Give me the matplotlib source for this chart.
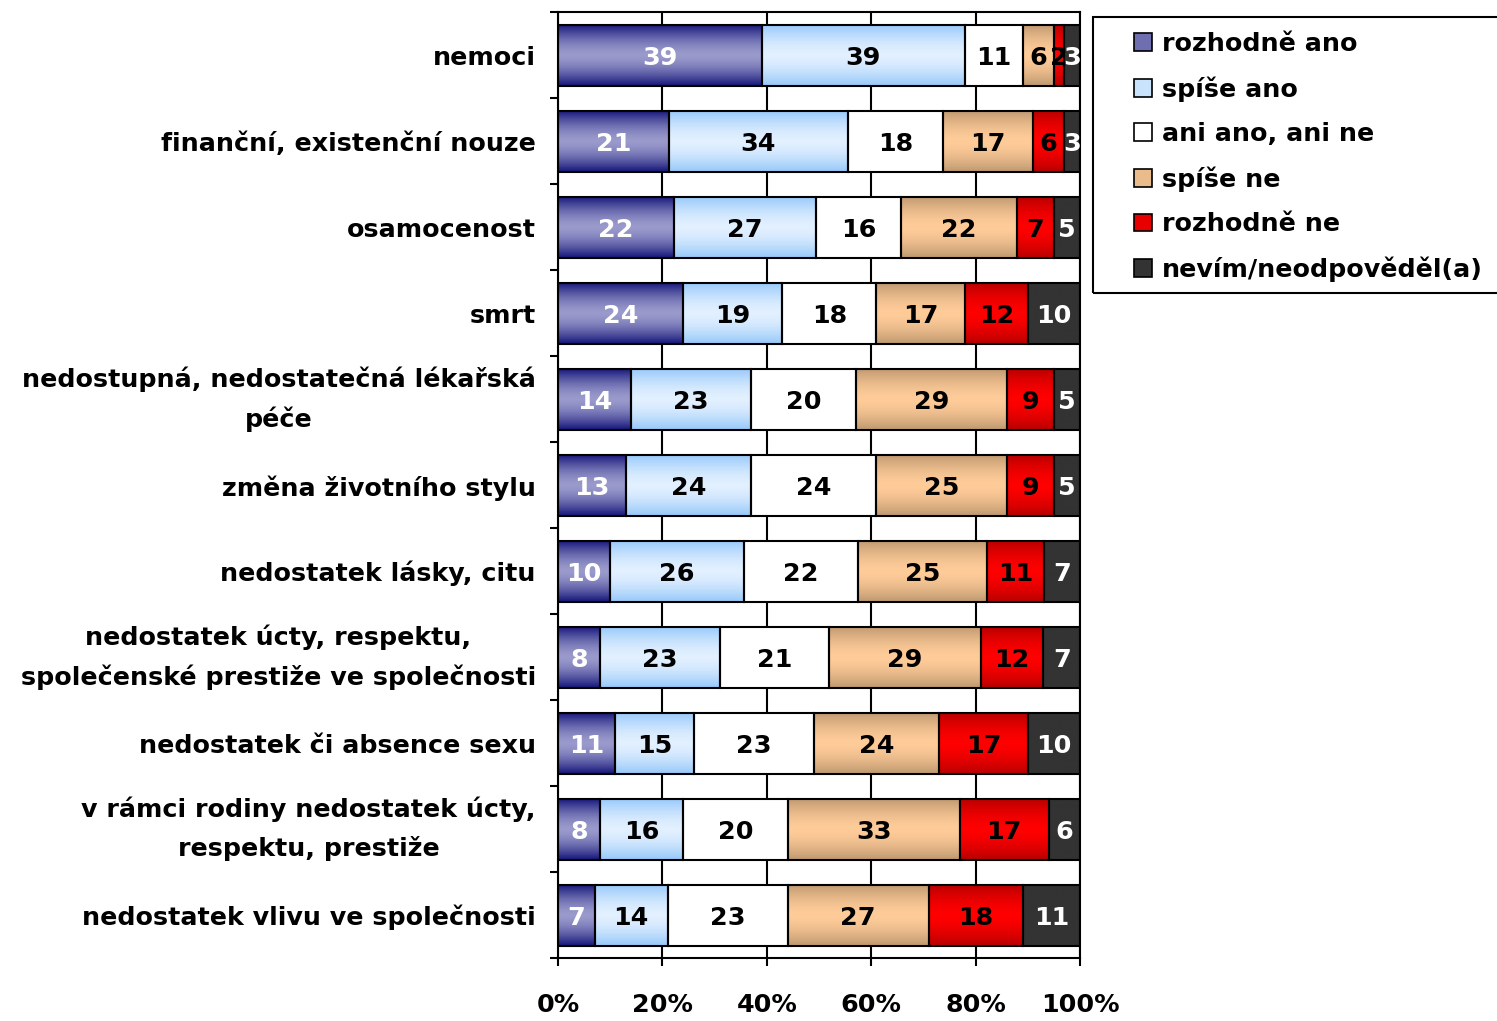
import numpy as np
import matplotlib.pyplot as plt
from matplotlib.colors import to_rgb
from matplotlib.patches import Patch, Rectangle

categories = [
    "nemoci",
    "finanční, existenční nouze",
    "osamocenost",
    "smrt",
    "nedostupná, nedostatečná lékařská\npéče",
    "změna životního stylu",
    "nedostatek lásky, citu",
    "nedostatek úcty, respektu,\nspolečenské prestiže ve společnosti",
    "nedostatek či absence sexu",
    "v rámci rodiny nedostatek úcty,\nrespektu, prestiže",
    "nedostatek vlivu ve společnosti",
]

rozhodne_ano = [39, 21, 22, 24, 14, 13, 10, 8, 11, 8, 7]
spise_ano = [39, 34, 27, 19, 23, 24, 26, 23, 15, 16, 14]
ani_ani = [11, 18, 16, 18, 20, 24, 22, 21, 23, 20, 23]
spise_ne = [6, 17, 22, 17, 29, 25, 25, 29, 24, 33, 27]
rozhodne_ne = [2, 6, 7, 12, 9, 9, 11, 12, 17, 17, 18]
nevim = [3, 3, 5, 10, 5, 5, 7, 7, 10, 6, 11]

series_labels = ["rozhodně ano", "spíše ano", "ani ano, ani ne",
                 "spíše ne", "rozhodně ne", "nevím/neodpověděl(a)"]

# (edge colour, centre colour, value text colour) for the Excel-like gradient
STYLES = [
    ("#15157a", "#9a9acc", "white"),
    ("#96c8fa", "#e2f0ff", "black"),
    ("#ffffff", "#ffffff", "black"),
    ("#bf9870", "#ffcc99", "black"),
    ("#b80000", "#ff0000", "black"),
    ("#333333", "#333333", "white"),
]

FS = 18.3
BAR_H = 0.71
W, H = 1497, 1021


def gradient(edge, centre, n=64):
    t = np.abs(np.linspace(-1, 1, n)) ** 1.6
    e, c = np.array(to_rgb(edge)), np.array(to_rgb(centre))
    return (c + (e - c) * t[:, None])[:, None, :]


data = np.array([rozhodne_ano, spise_ano, ani_ani, spise_ne, rozhodne_ne, nevim], float)
shares = data / data.sum(axis=0) * 100

fig = plt.figure(figsize=(W / 100, H / 100), dpi=100)
ax = fig.add_axes([558 / W, 1 - 958 / H, 522 / W, 945.5 / H])

y = np.arange(len(categories))
left = np.zeros(len(categories))
for k, (edge, centre, tcol) in enumerate(STYLES):
    bars = ax.barh(y, shares[k], left=left, height=BAR_H, color="none",
                   edgecolor="black", lw=1.5, zorder=3)
    grad = gradient(edge, centre)
    for i, patch in enumerate(bars.patches):
        x0, w = left[i], shares[k][i]
        im = ax.imshow(grad, extent=[x0, x0 + w, y[i] + BAR_H / 2, y[i] - BAR_H / 2],
                       aspect="auto", interpolation="bilinear", zorder=2)
        im.set_clip_path(patch)
        ax.text(x0 + w / 2, y[i], f"{int(data[k][i])}", ha="center",
                va="center_baseline", fontsize=FS, fontweight="bold",
                color=tcol, zorder=4)
    left += shares[k]

ax.set_xlim(0, 100)
ax.set_ylim(len(categories) - 0.5, -0.5)
ax.set_aspect("auto")

ax.set_axisbelow(True)
ax.xaxis.grid(True, color="black", lw=1.5)
for s in ax.spines.values():
    s.set_linewidth(1.5)

ax.set_xticks([0, 20, 40, 60, 80, 100])
ax.set_xticklabels([f"{v}%" for v in [0, 20, 40, 60, 80, 100]],
                   fontsize=FS, fontweight="bold")
ax.tick_params(axis="x", length=6, width=1.5, pad=19)

ax.set_yticks(y)
ax.set_yticklabels(categories, fontsize=FS, fontweight="bold",
                   multialignment="center", linespacing=1.7)
for lab in ax.get_yticklabels():
    if "\n" in lab.get_text():
        lab.set_va("center")
ax.set_yticks(np.arange(len(categories) + 1) - 0.5, minor=True)
ax.tick_params(axis="y", which="major", length=0, pad=16)
ax.tick_params(axis="y", which="minor", length=6, width=1.5)

# legend: entries without frame, frame drawn separately to match the wide box
handles = [Patch(facecolor=gradient(e, c, 5)[1, 0], edgecolor="black", lw=1.2)
           for e, c, _ in STYLES]
fig.legend(handles, series_labels, loc="upper left",
           bbox_to_anchor=(1134 / W, 1 - 32 / H),
           prop={"size": FS, "weight": "bold"}, frameon=False,
           handlelength=0.7, handleheight=0.7, handletextpad=0.4,
           labelspacing=0.8, borderpad=0, borderaxespad=0)
fig.patches.append(Rectangle((1093 / W, 1 - 293 / H), 420 / W, 276 / H,
                             transform=fig.transFigure, fill=False,
                             edgecolor="black", lw=1.5))

fig.savefig("out.png", dpi=100)
